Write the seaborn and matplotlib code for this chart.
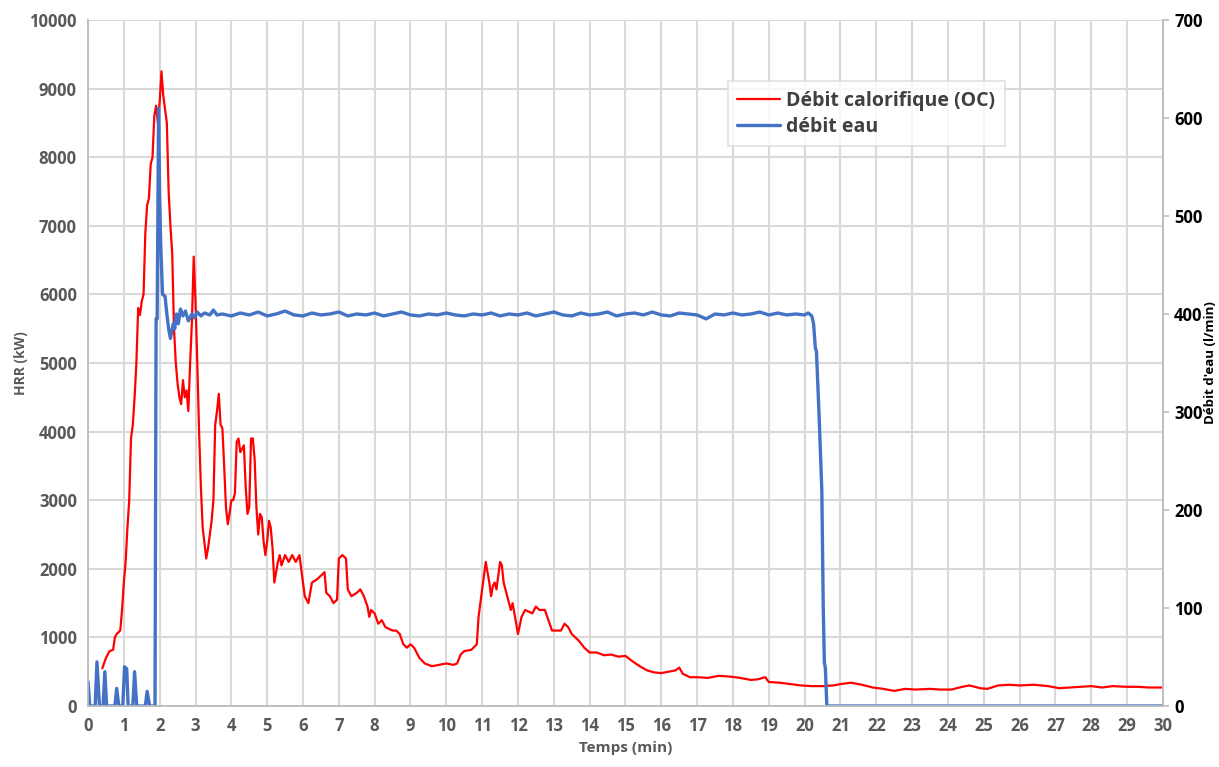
import numpy as np
import pandas as pd
import seaborn as sns
import matplotlib.pyplot as plt

# HRR curve (kW)
hrr_t = [0.4, 0.5, 0.6, 0.7, 0.75, 0.8, 0.9, 0.95, 1.0, 1.05, 1.1, 1.15, 1.2, 1.25, 1.3, 1.35,
         1.4, 1.45, 1.5, 1.55, 1.6, 1.65, 1.7, 1.75, 1.8, 1.85, 1.9, 1.95, 2.0, 2.05, 2.1, 2.15,
         2.2, 2.25, 2.3, 2.35, 2.4, 2.45, 2.5, 2.55, 2.6, 2.65, 2.7, 2.75, 2.8, 2.85, 2.9, 2.95,
         3.0, 3.05, 3.1, 3.15, 3.2, 3.3, 3.35, 3.4, 3.45, 3.5, 3.55, 3.6, 3.65, 3.7, 3.75, 3.8,
         3.85, 3.9, 3.95, 4.0, 4.05, 4.1, 4.15, 4.2, 4.25, 4.3, 4.35, 4.4, 4.45, 4.5, 4.55, 4.6,
         4.65, 4.7, 4.75, 4.8, 4.85, 4.9, 4.95, 5.0, 5.05, 5.1, 5.15, 5.2, 5.3, 5.35, 5.4, 5.5,
         5.6, 5.7, 5.8, 5.9, 5.95, 6.05, 6.15, 6.25, 6.4, 6.5, 6.6, 6.65, 6.75, 6.85, 6.95, 7.0,
         7.1, 7.2, 7.25, 7.35, 7.5, 7.6, 7.7, 7.8, 7.85, 7.9, 8.0, 8.1, 8.2, 8.3, 8.5, 8.6,
         8.7, 8.8, 8.9, 9.0, 9.1, 9.25, 9.4, 9.6, 9.8, 10.0, 10.2, 10.3, 10.4, 10.5, 10.7, 10.85,
         10.9, 10.95, 11.0, 11.05, 11.1, 11.2, 11.25, 11.3, 11.35, 11.4, 11.45, 11.5, 11.55, 11.6, 11.7, 11.8,
         11.85, 11.95, 12.0, 12.1, 12.2, 12.4, 12.5, 12.6, 12.75, 12.85, 12.95, 13.1, 13.2, 13.3, 13.4, 13.5,
         13.7, 13.85, 14.0, 14.2, 14.4, 14.6, 14.8, 15.0, 15.2, 15.4, 15.6, 15.8, 16.0, 16.2, 16.4, 16.5,
         16.6, 16.8, 17.0, 17.3, 17.6, 17.9, 18.2, 18.5, 18.7, 18.9, 19.0, 19.3, 19.6, 19.9, 20.2, 20.5,
         20.8, 21.0, 21.3, 21.6, 21.9, 22.2, 22.5, 22.8, 23.1, 23.5, 23.8, 24.1, 24.4, 24.6, 24.9, 25.1,
         25.4, 25.7, 26.0, 26.4, 26.8, 27.1, 27.4, 27.7, 28.0, 28.3, 28.6, 29.0, 29.3, 29.6, 30.0]
hrr_kw = [550, 700, 800, 820, 1000, 1050, 1100, 1400, 1800, 2100, 2600, 3000, 3900, 4100, 4500, 5000,
          5800, 5700, 5900, 6000, 6900, 7300, 7400, 7900, 8000, 8600, 8750, 8500, 8800, 9250, 8900, 8700,
          8500, 7500, 7000, 6600, 5500, 5000, 4700, 4500, 4400, 4750, 4500, 4600, 4300, 5000, 5600, 6550,
          5900, 5000, 4000, 3200, 2600, 2150, 2300, 2500, 2700, 3000, 4100, 4300, 4550, 4100, 4050, 3500,
          2900, 2650, 2800, 3000, 3000, 3100, 3850, 3900, 3700, 3750, 3800, 3200, 2800, 2900, 3900, 3900,
          3600, 2900, 2500, 2800, 2750, 2400, 2200, 2400, 2700, 2600, 2300, 1800, 2100, 2200, 2050, 2200,
          2100, 2200, 2100, 2200, 2000, 1600, 1500, 1800, 1850, 1900, 1950, 1650, 1600, 1500, 1550, 2150,
          2200, 2150, 1700, 1600, 1650, 1700, 1600, 1450, 1300, 1400, 1350, 1200, 1250, 1150, 1100, 1100,
          1050, 900, 850, 900, 850, 700, 620, 580, 600, 620, 600, 620, 750, 800, 820, 900,
          1300, 1500, 1700, 1900, 2100, 1800, 1600, 1750, 1800, 1700, 1900, 2100, 2050, 1800, 1600, 1400,
          1500, 1200, 1050, 1300, 1400, 1350, 1450, 1400, 1400, 1250, 1100, 1100, 1100, 1200, 1150, 1050,
          950, 850, 780, 780, 740, 750, 720, 730, 650, 580, 520, 490, 480, 500, 520, 560,
          470, 420, 420, 410, 440, 430, 410, 380, 390, 420, 350, 340, 320, 300, 290, 290,
          300, 320, 340, 310, 270, 250, 220, 250, 240, 250, 240, 240, 280, 300, 260, 250,
          300, 310, 300, 310, 290, 260, 270, 280, 290, 270, 290, 280, 280, 270, 270]

# water flow (l/min)
eau_t = [0.0, 0.05, 0.2, 0.25, 0.32, 0.42, 0.47, 0.52, 0.75, 0.8, 0.86, 0.97, 1.02, 1.08, 1.12, 1.25,
         1.3, 1.36, 1.6, 1.65, 1.72, 1.87, 1.9, 1.93, 1.97, 2.0, 2.03, 2.08, 2.15, 2.2, 2.25, 2.3,
         2.38, 2.42, 2.47, 2.52, 2.58, 2.65, 2.72, 2.8, 2.9, 2.97, 3.05, 3.15, 3.25, 3.4, 3.5, 3.6,
         3.75, 4.0, 4.25, 4.5, 4.75, 5.0, 5.25, 5.5, 5.75, 6.0, 6.25, 6.5, 6.75, 7.0, 7.25, 7.5,
         7.75, 8.0, 8.25, 8.5, 8.75, 9.0, 9.25, 9.5, 9.75, 10.0, 10.25, 10.5, 10.75, 11.0, 11.25, 11.5,
         11.75, 12.0, 12.25, 12.5, 12.75, 13.0, 13.25, 13.5, 13.75, 14.0, 14.25, 14.5, 14.75, 15.0, 15.25, 15.5,
         15.75, 16.0, 16.25, 16.5, 16.75, 17.0, 17.25, 17.5, 17.75, 18.0, 18.25, 18.5, 18.75, 19.0, 19.25, 19.5,
         19.75, 20.0, 20.1, 20.2, 20.25, 20.3, 20.33, 20.4, 20.45, 20.48, 20.52, 20.55, 20.58, 20.62, 30.0]
eau_lmin = [25, 0, 0, 45, 0, 0, 35, 0, 0, 18, 0, 0, 40, 38, 0, 0,
            35, 0, 0, 15, 0, 0, 395, 395, 610, 520, 470, 420, 418, 400, 385, 375,
            390, 385, 400, 390, 405, 398, 403, 393, 400, 396, 402, 398, 401, 399, 404, 399,
            400, 398, 401, 399, 402, 398, 400, 403, 399, 398, 401, 399, 400, 402, 398, 400,
            399, 401, 398, 400, 402, 399, 398, 400, 399, 401, 399, 398, 400, 399, 401, 398,
            400, 399, 401, 398, 400, 402, 399, 398, 401, 399, 400, 402, 398, 400, 401, 399,
            402, 399, 398, 401, 400, 399, 395, 400, 399, 401, 399, 400, 402, 399, 401, 399,
            400, 399, 401, 398, 390, 365, 362, 300, 250, 220, 100, 45, 38, 0, 0]

x_ticks = list(range(0, 31))
hrr_ticks = list(range(0, 10001, 1000))
eau_ticks = list(range(0, 701, 100))

hrr = pd.DataFrame({"Temps": hrr_t, "HRR": hrr_kw})
eau = pd.DataFrame({"Temps": eau_t, "Debit": eau_lmin})

sns.set_theme(style="white")
plt.rcParams['font.family'] = ['Open Sans', 'DejaVu Sans']

grey_txt = "#595959"
grid_c = "#D9D9D9"

fig = plt.figure(figsize=(12.19, 7.67), dpi=100)
ax = fig.add_axes([0.0722, 0.0795, 0.8818, 0.8945])
ax2 = ax.twinx()

sns.lineplot(data=hrr, x="Temps", y="HRR", ax=ax, color="#FF0000", lw=1.6,
             label="Débit calorifique (OC)", legend=False)
sns.lineplot(data=eau, x="Temps", y="Debit", ax=ax2, color="#4472C4", lw=2.4,
             label="débit eau", legend=False)

ax.set_xlim(0, 30)
ax.set_ylim(0, 10000)
ax2.set_ylim(0, 700)
ax.set_xticks(x_ticks)
ax.set_yticks(hrr_ticks)
ax2.set_yticks(eau_ticks)

ax.grid(True, color=grid_c, lw=1.5)
ax.set_axisbelow(True)

for a in (ax, ax2):
    a.spines["top"].set_visible(False)
    for s in ["left", "bottom", "right"]:
        a.spines[s].set_color("#BFBFBF")
        a.spines[s].set_linewidth(1.2)

ax.tick_params(axis="both", length=0, labelsize=12, labelcolor=grey_txt, pad=8)
ax2.tick_params(axis="y", length=4, color="#BFBFBF", labelsize=12, labelcolor="black", pad=4)
for lab in ax.get_xticklabels() + ax.get_yticklabels() + ax2.get_yticklabels():
    lab.set_fontweight("bold")

ax.set_xlabel("Temps (min)", fontsize=11, fontweight="bold", color=grey_txt, labelpad=4)
ax.set_ylabel("HRR (kW)", fontsize=10, fontweight="bold", color=grey_txt, labelpad=1)
ax2.set_ylabel("Débit d'eau (l/min)", fontsize=9.5, fontweight="bold", color="black", labelpad=1)

h1, l1 = ax.get_legend_handles_labels()
h2, l2 = ax2.get_legend_handles_labels()
leg = ax2.legend(h1 + h2, l1 + l2, loc="upper left", bbox_to_anchor=(0.589, 0.907),
                 bbox_transform=fig.transFigure, frameon=True, fancybox=False,
                 fontsize=14, handlelength=2.2, handletextpad=0.3, borderpad=0.5,
                 labelspacing=0.3)
leg.get_frame().set_edgecolor("#D9D9D9")
leg.get_frame().set_linewidth(1.2)
for t in leg.get_texts():
    t.set_fontweight("bold")
    t.set_color("#404040")

fig.savefig("out.png", dpi=100)
